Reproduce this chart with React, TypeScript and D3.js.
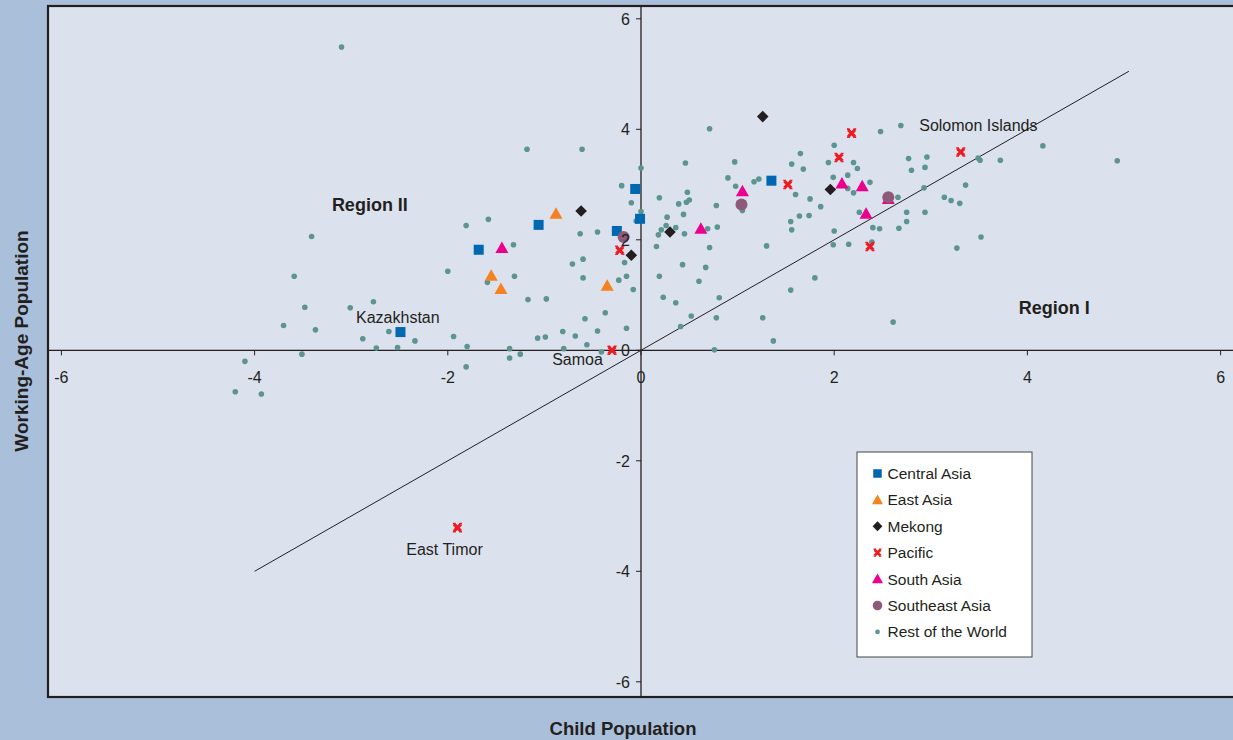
import React from 'react';
import * as d3 from 'd3';

type Pt = [number, number];

const centralAsia: Pt[] = [
  [-2.49, 0.33], [-1.68, 1.82], [-1.06, 2.27], [-0.25, 2.16], [-0.06, 2.92], [-0.01, 2.38], [1.35, 3.07],
];
const eastAsia: Pt[] = [
  [-0.88, 2.47], [-1.55, 1.35], [-1.45, 1.11], [-0.35, 1.17],
];
const mekong: Pt[] = [
  [-0.62, 2.52], [-0.10, 1.72], [0.30, 2.14], [1.26, 4.23], [1.96, 2.91],
];
const pacific: Pt[] = [
  [-0.30, 0.0], [-0.22, 1.81], [1.52, 3.0], [2.18, 3.93], [2.05, 3.49], [2.37, 1.88], [3.31, 3.59], [-1.90, -3.21],
];
const southAsia: Pt[] = [
  [-1.44, 1.85], [0.62, 2.2], [1.05, 2.88], [2.08, 3.02], [2.29, 2.97], [2.33, 2.47], [2.56, 2.74],
];
const southeastAsia: Pt[] = [
  [-0.18, 2.05], [1.04, 2.64], [2.56, 2.77],
];
const restOfWorld: Pt[] = [
  [-3.10, 5.49], [-3.41, 2.06], [-3.59, 1.34], [-3.48, 0.78], [-3.70, 0.45], [-3.37, 0.37], [-3.51, -0.07],
  [-4.10, -0.20], [-4.20, -0.75], [-3.93, -0.79], [-3.01, 0.77], [-2.77, 0.88], [-2.88, 0.21], [-2.74, 0.04],
  [-2.61, 0.34], [-2.52, 0.05], [-2.34, 0.17], [-2.00, 1.43], [-1.94, 0.25], [-1.80, 0.07], [-1.81, -0.30],
  [-1.32, 1.91], [-1.59, 1.23], [-1.31, 1.34], [-1.17, 0.92], [-0.98, 0.93], [-1.36, 0.03], [-1.36, -0.14],
  [-1.25, -0.07], [-1.07, 0.22], [-0.99, 0.24], [-0.81, 0.34], [-0.68, 0.26], [-0.56, 0.10], [-0.80, 0.03],
  [-0.45, 0.35], [-0.71, 1.56], [-0.60, 1.65], [-0.60, 1.31], [-0.58, 0.57], [-1.18, 3.64], [-0.61, 3.64],
  [0.00, 3.30], [-0.20, 2.98], [-0.10, 2.67], [0.00, 2.51], [-0.05, 2.34], [-1.58, 2.37], [-1.81, 2.26],
  [-0.63, 2.11], [-0.45, 2.14], [-0.17, 1.59], [-0.15, 1.34], [-0.23, 1.27], [-0.08, 1.10], [-0.37, 0.68],
  [-0.15, 0.40], [-0.41, -0.03], [0.19, 2.76], [0.18, 2.09], [0.16, 1.88], [0.19, 1.34], [0.71, 4.01],
  [0.46, 3.39], [0.97, 3.41], [0.90, 3.12], [0.98, 2.97], [1.05, 2.53], [1.17, 3.05], [1.22, 3.10],
  [1.56, 3.37], [1.65, 3.56], [1.68, 3.28], [1.60, 2.82], [1.75, 2.74], [1.86, 2.60], [1.55, 2.33],
  [1.56, 2.18], [1.64, 2.43], [1.74, 2.44], [2.00, 3.71], [1.94, 3.40], [1.99, 3.13], [2.00, 2.16],
  [1.99, 1.91], [0.48, 2.86], [0.50, 2.72], [0.47, 2.68], [0.39, 2.65], [0.78, 2.62], [0.27, 2.41],
  [0.44, 2.46], [0.26, 2.26], [0.21, 2.18], [0.36, 2.22], [0.45, 2.11], [0.69, 2.20], [0.79, 2.23],
  [0.71, 1.86], [0.43, 1.55], [0.67, 1.50], [0.60, 1.25], [0.23, 0.96], [0.36, 0.86], [0.81, 0.95],
  [0.52, 0.62], [0.78, 0.59], [0.41, 0.43], [1.30, 1.89], [1.55, 1.09], [1.80, 1.31], [1.26, 0.59],
  [1.37, 0.17], [0.76, 0.01], [2.48, 3.96], [2.69, 4.07], [2.20, 3.40], [2.24, 3.29], [2.14, 3.17],
  [2.14, 2.93], [2.20, 2.85], [2.37, 3.04], [2.26, 2.50], [2.66, 2.77], [2.15, 1.92], [2.39, 1.96],
  [2.40, 2.22], [2.47, 2.20], [2.67, 2.21], [2.75, 2.50], [2.75, 2.33], [2.94, 2.50], [2.77, 3.47],
  [2.96, 3.50], [2.80, 3.26], [2.94, 3.31], [2.93, 2.94], [3.49, 3.48], [3.51, 3.44], [3.72, 3.44],
  [3.36, 2.99], [3.14, 2.77], [3.21, 2.71], [3.30, 2.66], [3.52, 2.05], [3.27, 1.85], [2.61, 0.51],
  [4.16, 3.70], [4.93, 3.43],
];

const seriesNames = ['Central Asia', 'East Asia', 'Mekong', 'Pacific', 'South Asia', 'Southeast Asia', 'Rest of the World'];
const xTicks = [-6, -4, -2, 0, 2, 4, 6];
const yTicks = [-6, -4, -2, 0, 2, 4, 6];
const refLine: Pt[] = [[-4, -4], [5.05, 5.05]];
const pointLabels = [
  { text: 'Solomon Islands', x: 2.88, y: 3.97 },
  { text: 'Kazakhstan', x: -2.95, y: 0.49 },
  { text: 'Samoa', x: -0.92, y: -0.27 },
  { text: 'East Timor', x: -2.43, y: -3.71 },
];
const regionLabels = [
  { text: 'Region II', x: -3.20, y: 2.52 },
  { text: 'Region I', x: 3.91, y: 0.66 },
];

const FONT = '"Liberation Sans", Arial, Helvetica, sans-serif';
const INK = '#231f20';
const COLORS = ['#0067b1', '#f58220', '#231f20', '#ed1c24', '#ec008c', '#8d5a79', '#5b9490'];

type Kind = 'square' | 'triangle' | 'diamond' | 'x' | 'circle' | 'dot';
const KINDS: Kind[] = ['square', 'triangle', 'diamond', 'x', 'triangle', 'circle', 'dot'];

function Marker({ kind, color, cx, cy, s = 1 }: { kind: Kind; color: string; cx: number; cy: number; s?: number }) {
  const t = `translate(${cx},${cy}) scale(${s})`;
  switch (kind) {
    case 'square':
      return <rect transform={t} x={-5} y={-5} width={10} height={10} fill={color} />;
    case 'triangle':
      return <path transform={t} d="M0,-6.5 L6.5,5 L-6.5,5 Z" fill={color} />;
    case 'diamond':
      return <path transform={t} d="M0,-5.8 L5.8,0 L0,5.8 L-5.8,0 Z" fill={color} />;
    case 'circle':
      return <circle transform={t} r={6} fill={color} />;
    case 'dot':
      return <circle transform={t} r={2.8} fill={color} />;
    case 'x':
      return (
        <g transform={t} stroke={color} fill="none">
          <path d="M-3.4,-3.4 L3.4,3.4 M-3.4,3.4 L3.4,-3.4" strokeWidth={3.2} />
          <path d="M-4.6,-4 L-1.8,-4 M1.8,-4 L4.6,-4 M-4.6,4 L-1.8,4 M1.8,4 L4.6,4" strokeWidth={1.6} />
        </g>
      );
  }
}

export default function App() {
  const W = 1233, H = 740;
  const x = d3.scaleLinear().domain([-6, 6]).range([61.4, 1220.6]);
  const y = d3.scaleLinear().domain([-6, 6]).range([681.8, 18.8]);
  const all = [centralAsia, eastAsia, mekong, pacific, southAsia, southeastAsia, restOfWorld];
  const drawOrder = [6, 0, 1, 2, 3, 4, 5];
  const line = d3.line<Pt>().x(d => x(d[0])).y(d => y(d[1]));
  const x0 = x(0), y0 = y(0);
  const plotL = 48, plotT = 6, plotB = 697;

  const legX = 857, legY = 452, legW = 175, legH = 205;
  const rowY = (i: number) => legY + 21.5 + i * 26.4;
  const legendScale = [0.85, 0.85, 0.85, 0.85, 0.85, 0.8, 0.85];

  return (
    <svg width={W} height={H} style={{ position: 'absolute', left: 0, top: 0, display: 'block' }} fontFamily={FONT}>
      <rect x={0} y={0} width={W} height={H} fill="#aabfda" />
      <rect x={plotL} y={plotT} width={W + 20 - plotL} height={plotB - plotT} fill="#dce2ed" stroke={INK} strokeWidth={2.2} />

      <line x1={plotL} x2={W} y1={y0} y2={y0} stroke={INK} strokeWidth={1.3} />
      <line x1={x0} x2={x0} y1={plotT} y2={plotB} stroke={INK} strokeWidth={1.3} />
      {xTicks.map(t => (
        <line key={'xt' + t} x1={x(t)} x2={x(t)} y1={y0} y2={y0 + 5} stroke={INK} strokeWidth={1} />
      ))}
      {yTicks.map(t => (
        <line key={'yt' + t} x1={x0 - 5} x2={x0} y1={y(t)} y2={y(t)} stroke={INK} strokeWidth={1} />
      ))}

      <path d={line(refLine) || ''} stroke={INK} strokeWidth={1} fill="none" />

      {drawOrder.map(si => (
        <g key={'s' + si}>
          {all[si].map((p, i) => (
            <Marker key={i} kind={KINDS[si]} color={COLORS[si]} cx={x(p[0])} cy={y(p[1])} />
          ))}
        </g>
      ))}

      {xTicks.map(t => (
        <text key={'xl' + t} x={x(t)} y={y0 + 33} textAnchor="middle" fontSize={16} fill={INK}>{t}</text>
      ))}
      {yTicks.map(t => (
        <text key={'yl' + t} x={x0 - 11} y={y(t) + 6} textAnchor="end" fontSize={16} fill={INK}>{t}</text>
      ))}

      {pointLabels.map(l => (
        <text key={l.text} x={x(l.x)} y={y(l.y)} fontSize={16} fill={INK}>{l.text}</text>
      ))}
      {regionLabels.map(l => (
        <text key={l.text} x={x(l.x)} y={y(l.y)} fontSize={18} fontWeight="bold" fill={INK}>{l.text}</text>
      ))}

      <rect x={legX} y={legY} width={legW} height={legH} fill="#ffffff" stroke="#444" strokeWidth={1} />
      {seriesNames.map((n, i) => (
        <g key={n}>
          <Marker kind={KINDS[i]} color={COLORS[i]} cx={legX + 20.5} cy={rowY(i)} s={legendScale[i]} />
          <text x={legX + 30.5} y={rowY(i) + 5.5} fontSize={15.5} fill={INK}>{n}</text>
        </g>
      ))}

      <text x={623} y={735} textAnchor="middle" fontSize={18.5} fontWeight="bold" fill={INK}>Child Population</text>
      <text transform={`translate(28,341) rotate(-90)`} textAnchor="middle" fontSize={19} fontWeight="bold" fill={INK}>Working-Age Population</text>
    </svg>
  );
}
